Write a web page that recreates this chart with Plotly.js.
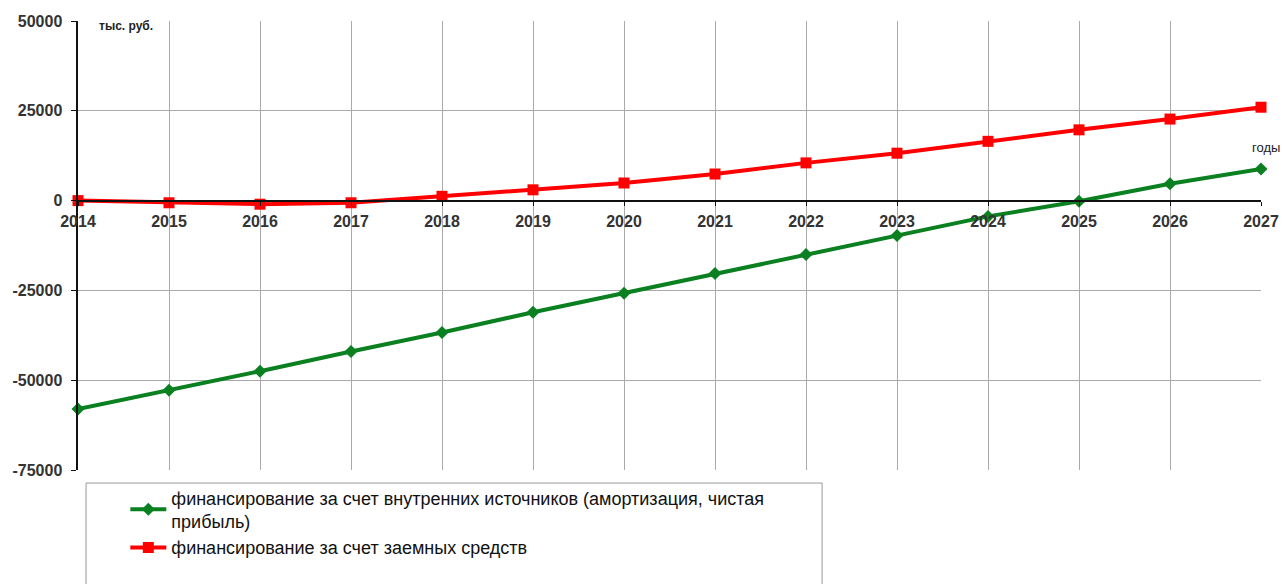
<!DOCTYPE html>
<html>
<head>
<meta charset="utf-8">
<script src="https://cdn.plot.ly/plotly-3.0.1.min.js"></script>
<style>html,body{margin:0;padding:0;background:#fff;}#chart{width:1283px;height:584px;}</style>
</head>
<body>
<div id="chart"></div>
<script>
const years = [2014,2015,2016,2017,2018,2019,2020,2021,2022,2023,2024,2025,2026,2027];
const internalFunding = [-58000,-52800,-47500,-42000,-36700,-31100,-25800,-20300,-15000,-9700,-4400,-200,4700,8800];
const loanFunding = [0,-600,-1000,-600,1200,3000,4900,7400,10500,13200,16500,19700,22700,26000];
const seriesNames = ['финансирование за счет внутренних источников (амортизация, чистая<br>прибыль)', 'финансирование за счет заемных средств'];
const yTickVals = [-75000,-50000,-25000,0,25000,50000];
const yTickText = ['-75000','-50000','-25000','0','25000','50000'];
const yUnit = 'тыс. руб.';
const xUnit = 'годы';

const font = 'Liberation Sans, Arial, sans-serif';
const traces = [
  {x: years, y: internalFunding, name: seriesNames[0], mode: 'lines+markers', cliponaxis: false,
   line: {color: '#0a8020', width: 4}, marker: {symbol: 'diamond', size: 10, color: '#0a8020'}},
  {x: years, y: loanFunding, name: seriesNames[1], mode: 'lines+markers', cliponaxis: false,
   line: {color: '#ff0000', width: 4}, marker: {symbol: 'square', size: 11, color: '#ff0000'}}
];
const layout = {
  width: 1283, height: 584,
  margin: {l: 78, r: 22, t: 21, b: 114},
  paper_bgcolor: '#fff', plot_bgcolor: '#fff',
  showlegend: true,
  font: {family: font, color: '#222'},
  xaxis: {
    range: [2014, 2027], dtick: 1, tick0: 2014,
    anchor: 'free', position: 0.6,
    showline: true, linecolor: '#111', linewidth: 2.5,
    showgrid: true, gridcolor: '#aaa', gridwidth: 1,
    zeroline: false,
    ticks: 'outside', ticklen: 4, tickcolor: '#111',
    ticklabelstandoff: 2,
    tickfont: {family: font, size: 16, color: '#333', weight: 'bold'}
  },
  yaxis: {
    range: [-75000, 50000], tickvals: yTickVals, ticktext: yTickText,
    showline: true, linecolor: '#111', linewidth: 2.5,
    showgrid: true, gridcolor: '#aaa', gridwidth: 1,
    zeroline: false,
    ticks: 'outside', ticklen: 5, tickcolor: '#111',
    ticklabelstandoff: 5,
    tickfont: {family: font, size: 16, color: '#333', weight: 'bold'}
  },
  legend: {
    x: 0.04, y: -0.021, xanchor: 'left', yanchor: 'top',
    bgcolor: 'rgba(0,0,0,0)', borderwidth: 0,
    itemwidth: 36,
    font: {family: font, size: 18, color: '#111'},
    tracegroupgap: 4
  },
  shapes: [
    {type: 'rect', xref: 'paper', yref: 'paper', x0: 0.0068, x1: 0.629, y0: -0.3, y1: -0.029,
     line: {color: '#999', width: 1}, fillcolor: 'rgba(0,0,0,0)'}
  ],
  annotations: [
    {xref: 'paper', yref: 'paper', x: 0.016, y: 0.988, xanchor: 'left', yanchor: 'middle', showarrow: false,
     text: yUnit, font: {family: font, size: 12, color: '#222', weight: 'bold'}},
    {xref: 'paper', yref: 'paper', x: 1.018, y: 0.719, xanchor: 'right', yanchor: 'middle', showarrow: false,
     text: xUnit, font: {family: font, size: 13, color: '#222'}}
  ]
};
Plotly.newPlot('chart', traces, layout, {displayModeBar: false, staticPlot: true});
</script>
</body>
</html>
